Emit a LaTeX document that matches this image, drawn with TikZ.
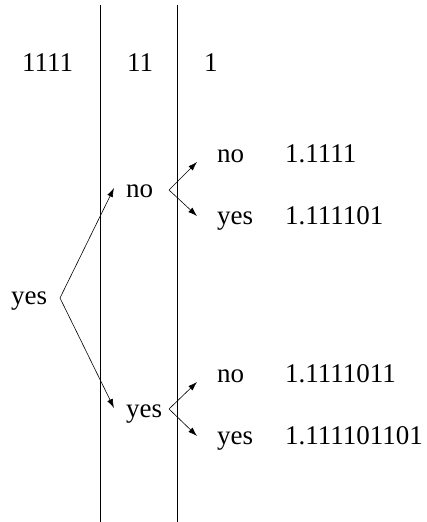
\documentclass[tikz,border=0pt]{standalone}
\usepackage{fontspec}
\setmainfont{Liberation Serif}
\usetikzlibrary{positioning, arrows.meta}
\tikzset{
    lab/.style={
        inner sep=0pt,
        anchor=base west,
        font=\fontsize{27}{31}\selectfont
    },
    arrow/.style={
        -{Latex[length=9pt,width=6pt]},
        line width=0.6pt
    },
    divider/.style={
        line width=0.9pt
    }
}

\begin{document}
\begin{tikzpicture}[x=1pt, y=-1pt]
    \useasboundingbox (0,0) rectangle (427,522);

    % column separators
    \coordinate (sepAtop) at (100,5);
    \coordinate (sepAbot) at (100,522);
    \coordinate (sepBtop) at (177,5);
    \coordinate (sepBbot) at (177,522);
    \draw[divider] (sepAtop) -- (sepAbot);
    \draw[divider] (sepBtop) -- (sepBbot);

    % column heads
    \node[lab] (head4) at (22,71) {1111};
    \node[lab] (head2) at (127,71) {11};
    \node[lab] (head1) at (204,71) {1};

    % decisions
    \node[lab] (yes0) at (11,304) {yes};
    \node[lab] (no1) at (126,197) {no};
    \node[lab] (yes1) at (126,417) {yes};

    \node[lab] (noA) at (217,162) {no};
    \node[lab] (yesA) at (217,224) {yes};
    \node[lab] (noB) at (217,382) {no};
    \node[lab] (yesB) at (217,444) {yes};

    % results
    \node[lab] (valA) at (285,162) {1.1111};
    \node[lab] (valB) at (285,224) {1.111101};
    \node[lab] (valC) at (285,382) {1.1111011};
    \node[lab] (valD) at (285,444) {1.111101101};

    % branch points
    \coordinate (fork0) at (60,298);
    \coordinate (fork1) at (169,190);
    \coordinate (fork2) at (169,409);

    \draw[arrow] (fork0) -- ([xshift=-12pt,yshift=9pt]no1.base west);
    \draw[arrow] (fork0) -- ([xshift=-12pt,yshift=9pt]yes1.base west);
    \draw[arrow] (fork1) -- ([xshift=-20pt]noA.base west);
    \draw[arrow] (fork1) -- ([xshift=-20pt,yshift=8pt]yesA.base west);
    \draw[arrow] (fork2) -- ([xshift=-20pt]noB.base west);
    \draw[arrow] (fork2) -- ([xshift=-20pt,yshift=8pt]yesB.base west);
\end{tikzpicture}
\end{document}
